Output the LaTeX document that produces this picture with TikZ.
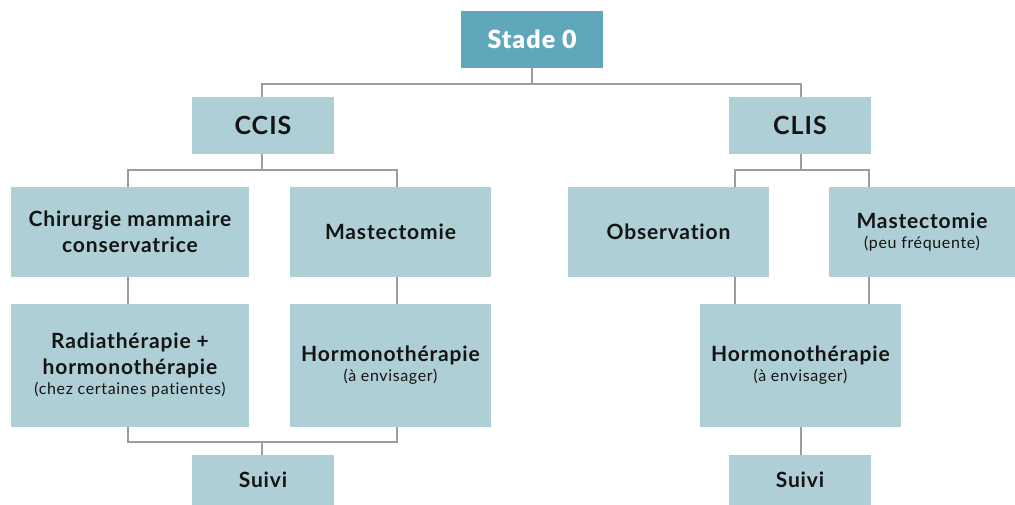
\documentclass[tikz,border=0pt]{standalone}
\usepackage{fontspec}
\setmainfont{Lato}[LetterSpace=4,Ligatures=NoCommon]
\newfontfamily\blackfont{Lato Black}[LetterSpace=4]
\usetikzlibrary{calc}
\definecolor{teal0}{HTML}{5FA8BC}
\definecolor{light0}{HTML}{AECFD6}
\definecolor{line0}{HTML}{9D9D9F}
\definecolor{txt0}{HTML}{141414}
\newcommand\subtxt{\fontsize{16}{19}\selectfont\mdseries}
\tikzset{
  box/.style={fill=light0, draw=none, inner sep=0pt, align=center, text=txt0,
    font=\fontsize{21}{26}\selectfont\bfseries},
  topbox/.style={fill=teal0, draw=none, inner sep=0pt, align=center, text=white,
    font=\fontsize{25}{28}\selectfont\blackfont},
  conn/.style={draw=line0, line width=2pt},
}
\begin{document}
\begin{tikzpicture}[x=1pt,y=-1pt]
\useasboundingbox (0,0) rectangle (1015,505);
% nodes
\node[topbox, minimum width=142pt, minimum height=57pt] (stade) at (532,39.5) {Stade 0};
\node[box, minimum width=142pt, minimum height=57pt, font=\fontsize{25}{28}\selectfont\bfseries] (ccis) at (263,125.5) {CCIS};
\node[box, minimum width=142pt, minimum height=57pt, font=\fontsize{25}{28}\selectfont\bfseries] (clis) at (800,125.5) {CLIS};
\node[box, minimum width=238pt, minimum height=90pt] (chir) at (130,232) {Chirurgie mammaire\\conservatrice};
\node[box, minimum width=201pt, minimum height=90pt] (mastL) at (390.5,232) {Mastectomie};
\node[box, minimum width=201pt, minimum height=90pt] (obs) at (668.5,232) {Observation};
\node[box, minimum width=186pt, minimum height=90pt] (mastR) at (922,232) {Mastectomie\\[-6pt]\subtxt (peu fréquente)};
\node[box, minimum width=238pt, minimum height=123pt] (radio) at (130,365.5) {Radiathérapie +\\hormonothérapie\\[-6pt]\subtxt (chez certaines patientes)};
\node[box, minimum width=201pt, minimum height=123pt] (hormL) at (390.5,365.5) {Hormonothérapie\\[-6pt]\subtxt (à envisager)};
\node[box, minimum width=201pt, minimum height=123pt] (hormR) at (800.5,365.5) {Hormonothérapie\\[-6pt]\subtxt (à envisager)};
\node[box, minimum width=142pt, minimum height=50pt] (suiviL) at (263,480) {Suivi};
\node[box, minimum width=142pt, minimum height=50pt] (suiviR) at (800,480) {Suivi};
% junctions
\coordinate (j0) at (532,84);
\coordinate (j1) at (262,170);
\coordinate (j2) at (800.5,170);
\coordinate (j3) at (262,441.5);
\coordinate (lx) at (128,0);
\coordinate (mx) at (397,0);
\coordinate (ox) at (734.5,0);
\coordinate (px) at (869,0);
% connectors
\draw[conn] (stade.south) -- (j0);
\draw[conn] (j0) -| (ccis.north -| j1);
\draw[conn] (j0) -| (clis.north -| j2);
\draw[conn] (ccis.south -| j1) -- (j1);
\draw[conn] (j1) -| (chir.north -| lx);
\draw[conn] (j1) -| (mastL.north -| mx);
\draw[conn] (clis.south -| j2) -- (j2);
\draw[conn] (j2) -| (obs.north -| ox);
\draw[conn] (j2) -| (mastR.north -| px);
\draw[conn] (chir.south -| lx) -- (radio.north -| lx);
\draw[conn] (mastL.south -| mx) -- (hormL.north -| mx);
\draw[conn] (obs.south -| ox) -- (hormR.north -| ox);
\draw[conn] (mastR.south -| px) -- (hormR.north -| px);
\draw[conn] (radio.south -| lx) |- (j3);
\draw[conn] (hormL.south -| mx) |- (j3);
\draw[conn] (j3) -- (suiviL.north -| j3);
\draw[conn] (hormR.south -| j2) -- (suiviR.north -| j2);
\end{tikzpicture}
\end{document}
